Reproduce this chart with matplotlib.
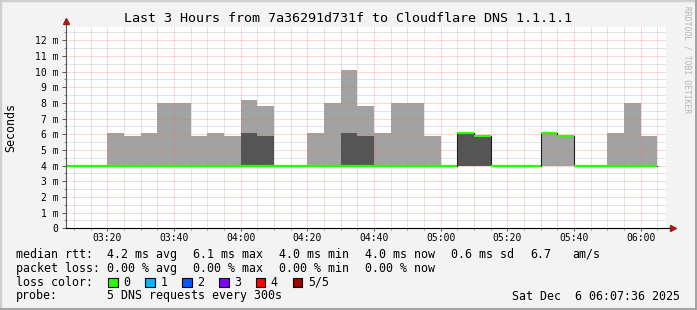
import matplotlib.pyplot as plt
import matplotlib.patches as mpatches
import numpy as np
from matplotlib.ticker import MultipleLocator, FuncFormatter

W, H = 697, 310

# 5 minute steps (start of each step)
slot_start = ["03:05", "03:10", "03:15", "03:20", "03:25", "03:30", "03:35", "03:40",
              "03:45", "03:50", "03:55", "04:00", "04:05", "04:10", "04:15", "04:20",
              "04:25", "04:30", "04:35", "04:40", "04:45", "04:50", "04:55", "05:00",
              "05:05", "05:10", "05:15", "05:20", "05:25", "05:30", "05:35", "05:40",
              "05:45", "05:50", "05:55", "06:00"]
nan = np.nan
# smoke, values in ms
rtt_min = [4.0] * 36
smoke_light = [nan, nan, nan, 6.1, 5.9, 6.1, 8.0, 8.0, 5.9, 6.1, 5.9, 8.2,
               7.8, nan, nan, 6.1, 8.0, 10.1, 7.8, 6.1, 8.0, 8.0, 5.9, nan,
               nan, nan, nan, nan, nan, 6.1, 5.9, nan, nan, 6.1, 8.0, 5.9]
smoke_dark = [nan, nan, nan, nan, nan, nan, nan, nan, nan, nan, nan, 6.1,
              5.9, nan, nan, nan, nan, 6.1, 5.9, nan, nan, nan, nan, nan,
              6.1, 5.9, nan, nan, nan, nan, nan, nan, nan, nan, nan, nan]
median = [4.0, 4.0, 4.0, 4.0, 4.0, 4.0, 4.0, 4.0, 4.0, 4.0, 4.0, 4.0,
          4.0, 4.0, 4.0, 4.0, 4.0, 4.0, 4.0, 4.0, 4.0, 4.0, 4.0, 4.0,
          6.1, 5.9, 4.0, 4.0, 4.0, 6.1, 5.9, 4.0, 4.0, 4.0, 4.0, 4.0]

loss_labels = ["0", "1", "2", "3", "4", "5/5"]
loss_colors = ["#26ff00", "#00b8ff", "#0059ff", "#7e00ff", "#ff0000", "#a10000"]

t_start = "03:07:36"
t_end = "06:07:36"


def to_min(s):
    p = [int(v) for v in s.split(":")]
    m = p[0] * 60 + p[1]
    if len(p) > 2:
        m += p[2] / 60
    return m


def px(x, y):
    return x / W, 1 - y / H


x = np.array([to_min(s) for s in slot_start])
lo = np.array(rtt_min)
light = np.array(smoke_light)
dark = np.array(smoke_dark)
med = np.array(median)

fig = plt.figure(figsize=(W / 100, H / 100), dpi=100, facecolor="#f3f3f3")
mono = "DejaVu Sans Mono"

# frame
fig.patches.append(mpatches.Rectangle((0, 0), 1, 1, transform=fig.transFigure,
                                      fill=False, edgecolor="#cfcfcf", lw=2.5))
fig.patches.append(mpatches.Rectangle((0, 0), 1, 2 / H, transform=fig.transFigure,
                                      color="#a3a3a3", lw=0))
fig.patches.append(mpatches.Rectangle((1 - 2 / W, 0), 2 / W, 1, transform=fig.transFigure,
                                      color="#a3a3a3", lw=0))

ax = fig.add_axes([66 / W, (H - 228.3) / H, 600 / W, 201.3 / H])
ax.set_facecolor("white")
ax.set_xlim(to_min(t_start), to_min(t_end))
ax.set_ylim(0, 12.85)

ax.bar(x, light - lo, bottom=lo, width=5, align="edge", color="#a2a2a2", lw=0, zorder=2)
ax.bar(x, dark - lo, bottom=lo, width=5, align="edge", color="#555555", lw=0, zorder=3)

# median: thin dark step + loss coloured segments
xs = np.append(x, x[-1] + 5)
ax.step(xs, np.append(med, med[-1]), where="post", color="#202020", lw=0.8, zorder=4)
ax.hlines(med, x, x + 5, color=loss_colors[0], lw=1.6, zorder=5)

# grid on top of the data, rrdtool style
ax.xaxis.set_major_locator(MultipleLocator(20))
ax.xaxis.set_minor_locator(MultipleLocator(5))
ax.yaxis.set_major_locator(MultipleLocator(1))
ax.yaxis.set_minor_locator(MultipleLocator(0.5))
ax.grid(which="minor", color="#a0a0a0", alpha=0.55, lw=0.72, ls=(0, (1, 1)), zorder=6)
ax.grid(which="major", color="#ff6a6a", alpha=0.55, lw=0.72, ls=(0, (1, 1)), zorder=7)
ax.set_axisbelow(False)

ax.xaxis.set_major_formatter(FuncFormatter(lambda v, p: "%02d:%02d" % (int(v) // 60, int(v) % 60)))
ax.yaxis.set_major_formatter(FuncFormatter(lambda v, p: "0" if v == 0 else "%d m" % v))

for s in ["top", "right"]:
    ax.spines[s].set_visible(False)
ax.spines["left"].set_color("#555555")
ax.spines["bottom"].set_color("black")
ax.spines["left"].set_bounds(0, 13.1)
ax.spines["left"].set_zorder(8)
ax.spines["bottom"].set_zorder(8)

ax.tick_params(which="major", axis="x", length=2.2, width=0.7, color="#555555", pad=1.0,
               labelsize=7, labelcolor="black")
ax.tick_params(which="minor", axis="x", length=1.5, width=0.7, color="#888888")
ax.tick_params(which="major", axis="y", length=2.9, width=0.7, color="#555555", pad=2.6,
               labelsize=7, labelcolor="black")
ax.tick_params(which="minor", axis="y", length=1.5, width=0.7, color="#888888")
for lab in ax.get_xticklabels() + ax.get_yticklabels():
    lab.set_family(mono)

# arrows
ax.plot(0, 1.03, marker="^", ms=4.5, color="#a01c1c", transform=ax.transAxes, clip_on=False, zorder=9)
ax.plot(1.012, 0, marker=">", ms=4.5, color="#a01c1c", transform=ax.transAxes, clip_on=False, zorder=9)
ax.plot([1.0, 1.006], [0, 0], color="black", lw=0.8, transform=ax.transAxes, clip_on=False)

fig.text(*px(348, 18), "Last 3 Hours from 7a36291d731f to Cloudflare DNS 1.1.1.1",
         family=mono, size=9.6, ha="center", va="center")
fig.text(*px(11, 127), "Seconds", family=mono, size=8.4, rotation=90, ha="center", va="center")
fig.text(*px(687, 60), "RRDTOOL / TOBI OETIKER", family=mono, size=5.8, rotation=270,
         ha="center", va="center", color="#b5b5b5")

fs = 8.4
rows = [
    (254.3, [(16, "median rtt:"), (107, "4.2 ms avg"), (193, "6.1 ms max"), (279, "4.0 ms min"),
             (365, "4.0 ms now"), (451, "0.6 ms sd"), (530, "6.7"), (572, "am/s")]),
    (268.3, [(16, "packet loss:"), (107, "0.00 % avg"), (193, "0.00 % max"), (279, "0.00 % min"),
             (365, "0.00 % now")]),
    (282.3, [(16, "loss color:")]),
    (296, [(16, "probe:"), (107, "5 DNS requests every 300s")]),
]
for yy, items in rows:
    for xx, txt in items:
        fig.text(*px(xx, yy), txt, family=mono, size=fs, ha="left", va="center")

for i, (lab, col) in enumerate(zip(loss_labels, loss_colors)):
    bx = 108.3 + i * 36.9
    fig.patches.append(mpatches.Rectangle(px(bx, 287), 9.5 / W, 9.5 / H, transform=fig.transFigure,
                                          facecolor=col, edgecolor="black", lw=0.8))
    fig.text(*px(bx + 15, 282.3), lab, family=mono, size=fs, ha="left", va="center")

fig.text(*px(680, 296), "Sat Dec  6 06:07:36 2025", family=mono, size=fs, ha="right", va="center")

fig.savefig("out.png", dpi=100, facecolor=fig.get_facecolor())
